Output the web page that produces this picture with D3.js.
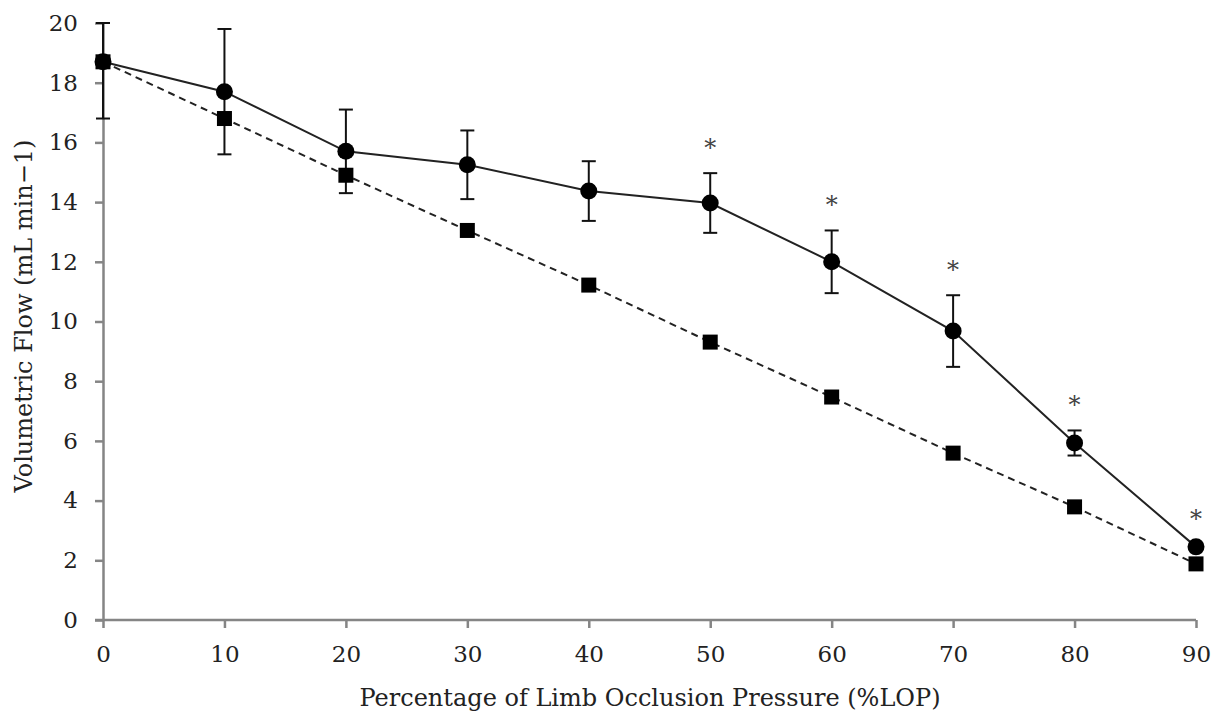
<!DOCTYPE html>
<html><head><meta charset="utf-8">
<script src="https://cdn.jsdelivr.net/npm/d3@7"></script>
<style>body{margin:0;background:#fff}svg{display:block}</style>
</head><body>
<script>
const pressures = [0,10,20,30,40,50,60,70,80,90];
const measured = [18.7,17.7,15.7,15.25,14.37,13.97,12.0,9.68,5.93,2.45];
const measuredSD = [1.9,2.1,1.4,1.15,1.0,1.0,1.05,1.2,0.42,0.1];
const predicted = [18.7,16.8,14.9,13.05,11.22,9.31,7.47,5.59,3.79,1.88];
const significant = [50,60,70,80,90];
const yTicks = [0,2,4,6,8,10,12,14,16,18,20];
const xTicks = [0,10,20,30,40,50,60,70,80,90];
const xTitle = "Percentage of Limb Occlusion Pressure (%LOP)";
const yTitle = "Volumetric Flow (mL min\u22121)";

const W=1217,H=713;
const font="'DejaVu Serif', serif";
const svg=d3.select("body").append("svg").attr("width",W).attr("height",H);
const x=d3.scaleLinear().domain([0,90]).range([103,1196]);
const y=d3.scaleLinear().domain([0,20]).range([620,23]);
const axisColor="#858585";

// axes
const gx=svg.append("g").attr("transform",`translate(0,${y(0)})`)
  .call(d3.axisBottom(x).tickValues(xTicks).tickSize(8).tickPadding(18).tickSizeOuter(0));
const gy=svg.append("g").attr("transform",`translate(${x(0)},0)`)
  .call(d3.axisLeft(y).tickValues(yTicks).tickSize(8).tickPadding(17).tickSizeOuter(0));
[gx,gy].forEach(g=>{
  g.select(".domain").attr("stroke",axisColor).attr("stroke-width",2.5);
  g.selectAll(".tick line").attr("stroke",axisColor).attr("stroke-width",2.5);
  g.selectAll(".tick text").attr("fill","#222").style("font-family",font).style("font-size","23px");
});
gx.select(".domain").attr("d",`M${x(0)-8},0H${x(90)}`);

// lines
const lineM=d3.line().x((d,i)=>x(pressures[i])).y(d=>y(d));
svg.append("path").datum(predicted).attr("d",lineM).attr("fill","none")
  .attr("stroke","#222").attr("stroke-width",2).attr("stroke-dasharray","7,5");
svg.append("path").datum(measured).attr("d",lineM).attr("fill","none")
  .attr("stroke","#222").attr("stroke-width",2);

// error bars
const cap=7;
measured.forEach((v,i)=>{
  const hi=Math.min(20,v+measuredSD[i]), lo=Math.max(0,v-measuredSD[i]);
  const cx=x(pressures[i]);
  const g=svg.append("g").attr("stroke","#111").attr("stroke-width",2);
  g.append("line").attr("x1",cx).attr("x2",cx).attr("y1",y(hi)).attr("y2",y(lo));
  g.append("line").attr("x1",cx-cap).attr("x2",cx+cap).attr("y1",y(hi)).attr("y2",y(hi));
  g.append("line").attr("x1",cx-cap).attr("x2",cx+cap).attr("y1",y(lo)).attr("y2",y(lo));
});

// markers
const sq=15;
svg.selectAll("rect.pred").data(predicted).enter().append("rect")
  .attr("x",(d,i)=>x(pressures[i])-sq/2).attr("y",d=>y(d)-sq/2)
  .attr("width",sq).attr("height",sq).attr("fill","#000");
svg.selectAll("circle.meas").data(measured).enter().append("circle")
  .attr("cx",(d,i)=>x(pressures[i])).attr("cy",d=>y(d)).attr("r",8.5).attr("fill","#000");

// asterisks
significant.forEach(p=>{
  const i=pressures.indexOf(p);
  const top=y(measured[i]+measuredSD[i]);
  svg.append("text").attr("x",x(p)).attr("y",top-30+13).attr("text-anchor","middle")
    .style("font-family",font).style("font-size","24px").attr("fill","#444").text("*");
});

// titles
svg.append("text").attr("x",650).attr("y",706).attr("text-anchor","middle")
  .style("font-family",font).style("font-size","24px").attr("fill","#222").text(xTitle);
svg.append("text").attr("transform","translate(32,316) rotate(-90)").attr("text-anchor","middle")
  .style("font-family",font).style("font-size","24px").attr("fill","#222").text(yTitle);
</script>
</body></html>
